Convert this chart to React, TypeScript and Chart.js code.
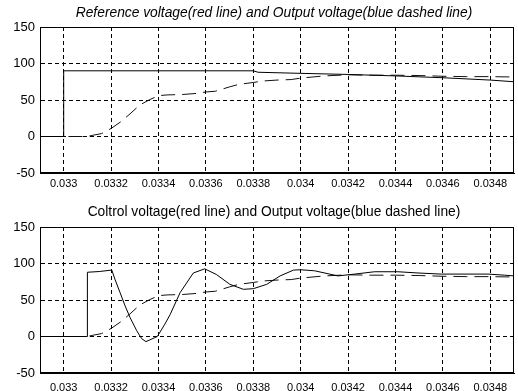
import React, { useEffect, useRef } from "react";
import { Chart, registerables } from "chart.js";

Chart.register(...registerables);

// ---- axis ticks ----
const xTickValues = [0.033, 0.0332, 0.0334, 0.0336, 0.0338, 0.034, 0.0342, 0.0344, 0.0346, 0.0348];
const xTickLabels = ["0.033", "0.0332", "0.0334", "0.0336", "0.0338", "0.034", "0.0342", "0.0344", "0.0346", "0.0348"];
const yTickValues = [-50, 0, 50, 100, 150];
const xMin = 0.0329;
const xMax = 0.0349;

// ---- titles ----
const topTitle = "Reference voltage(red line) and Output voltage(blue dashed line)";
const bottomTitle = "Coltrol voltage(red line) and Output voltage(blue dashed line)";

// ---- reference voltage (top solid) ----
const refX = [0.0329, 0.033, 0.033, 0.0338, 0.03382, 0.034, 0.0342, 0.0344, 0.0346, 0.0348, 0.0349];
const refY = [0, 0, 90, 90, 88, 86.5, 85, 83, 80.5, 77.3, 75];

// ---- output voltage (dashed, both panels) ----
const outX = [0.03302, 0.0331, 0.03312, 0.03316, 0.0332, 0.03324, 0.03328, 0.03332, 0.03336, 0.0334, 0.03344, 0.0335, 0.03356, 0.0336, 0.03364, 0.0337, 0.03374, 0.0338, 0.03384, 0.0339, 0.03396, 0.034, 0.0341, 0.0342, 0.0343, 0.0344, 0.0345, 0.0346, 0.0347, 0.0348, 0.0349];
const outY = [0, 0, 1.5, 4, 11, 20, 31, 43, 50, 56, 57, 57.5, 59, 61, 62, 68, 71.5, 74, 76, 77.3, 78, 80, 83, 84.5, 84, 84, 83.5, 82.5, 82, 82, 81.5];

// ---- control voltage (bottom solid) ----
const ctrlX = [0.0329, 0.0331, 0.0331, 0.03315, 0.033203, 0.033216, 0.033238, 0.033259, 0.03328, 0.033308, 0.033329, 0.033347, 0.033395, 0.033427, 0.033449, 0.033491, 0.033547, 0.033595, 0.033644, 0.033701, 0.033758, 0.0338, 0.033857, 0.033913, 0.03397, 0.034, 0.034059, 0.034157, 0.034228, 0.034312, 0.03441, 0.034495, 0.034593, 0.03479, 0.034861, 0.0349];
const ctrlY = [0, 0, 88, 89, 91, 78.6, 60, 42, 26, 8, -3, -7, 0, 17, 30, 60, 87, 92.7, 85, 71.5, 64.6, 65.5, 71.5, 83, 91, 91.4, 90, 83, 85.5, 88.7, 88.7, 87, 85.5, 85.5, 84, 83];

const toPoints = (xs: number[], ys: number[]) => xs.map((x, i) => ({ x, y: ys[i] }));

const FONT = "'Liberation Sans', Arial, Helvetica, sans-serif";

const framePlugin = {
  id: "frame",
  afterDraw(chart: any) {
    const { ctx, chartArea } = chart;
    const l = Math.round(chartArea.left) + 0.5;
    const t = Math.round(chartArea.top) + 0.5;
    const r = Math.round(chartArea.right) - 0.5;
    const b = Math.round(chartArea.bottom) - 0.5;
    ctx.save();
    ctx.strokeStyle = "#000";
    ctx.lineWidth = 1;
    ctx.setLineDash([]);
    ctx.strokeRect(l, t, r - l, b - t);
    ctx.restore();
  },
};

const plotTitlePlugin = {
  id: "plotTitle",
  afterDraw(chart: any, _args: any, opts: any) {
    const { ctx, chartArea } = chart;
    ctx.save();
    ctx.fillStyle = "#000";
    ctx.font = `${opts.italic ? "italic " : ""}13.8px ${FONT}`;
    ctx.textAlign = "center";
    ctx.textBaseline = "middle";
    ctx.fillText(opts.text, (chartArea.left + chartArea.right) / 2 - 3, opts.y);
    ctx.restore();
  },
};

type PanelProps = {
  title: string;
  italicTitle: boolean;
  solid: { x: number; y: number }[];
  dashed: { x: number; y: number }[];
  height: number;
  plotTop: number;
  titleY: number;
  xAxisHeight: number;
  xTickPad: number;
};

function Panel(p: PanelProps) {
  const ref = useRef<HTMLCanvasElement | null>(null);
  useEffect(() => {
    if (!ref.current) return;
    const chart = new Chart(ref.current, {
      type: "line",
      data: {
        datasets: [
          {
            data: p.solid,
            borderColor: "#000",
            borderWidth: 1,
            pointRadius: 0,
            tension: 0,
            fill: false,
          },
          {
            data: p.dashed,
            borderColor: "#111",
            borderWidth: 1,
            borderDash: [14, 7],
            pointRadius: 0,
            tension: 0,
            fill: false,
          },
        ],
      },
      options: {
        animation: false,
        responsive: false,
        maintainAspectRatio: false,
        layout: { padding: { left: 0, right: 4, top: p.plotTop, bottom: 0 } },
        plugins: {
          legend: { display: false },
          tooltip: { enabled: false },
          title: { display: false },
          plotTitle: { text: p.title, italic: p.italicTitle, y: p.titleY },
        },
        scales: {
          x: {
            type: "linear",
            min: xMin,
            max: xMax,
            afterBuildTicks: (scale: any) => {
              scale.ticks = xTickValues.map((v) => ({ value: v }));
            },
            afterFit: (scale: any) => {
              scale.height = p.xAxisHeight;
            },
            ticks: {
              autoSkip: false,
              maxRotation: 0,
              padding: p.xTickPad,
              color: "#000",
              font: { family: FONT, size: 11 },
              callback: (_v: any, i: number) => xTickLabels[i],
            },
            grid: { color: "#000", lineWidth: 1, drawTicks: false },
            border: { display: true, color: "#000", dash: [4, 3] },
          },
          y: {
            type: "linear",
            min: -50,
            max: 150,
            afterBuildTicks: (scale: any) => {
              scale.ticks = yTickValues.map((v) => ({ value: v }));
            },
            afterFit: (scale: any) => {
              scale.width = 40;
            },
            ticks: {
              padding: 5,
              color: "#000",
              font: { family: FONT, size: 13 },
              callback: (v: any) => String(v),
            },
            grid: { color: "#000", lineWidth: 1, drawTicks: false },
            border: { display: true, color: "#000", dash: [4, 3] },
          },
        },
      },
      plugins: [framePlugin, plotTitlePlugin],
    } as any);
    return () => chart.destroy();
  }, []);
  return <canvas ref={ref} width={518} height={p.height} style={{ display: "block", width: 518, height: p.height }} />;
}

export default function App() {
  return (
    <div style={{ position: "absolute", left: 0, top: 0, width: 518, height: 391, background: "#fff" }}>
      <Panel
        title={topTitle}
        italicTitle={true}
        solid={toPoints(refX, refY)}
        dashed={toPoints(outX, outY)}
        height={195}
        plotTop={27}
        titleY={13}
        xAxisHeight={22}
        xTickPad={4}
      />
      <Panel
        title={bottomTitle}
        italicTitle={false}
        solid={toPoints(ctrlX, ctrlY)}
        dashed={toPoints(outX, outY)}
        height={196}
        plotTop={32}
        titleY={17}
        xAxisHeight={18}
        xTickPad={8}
      />
    </div>
  );
}
